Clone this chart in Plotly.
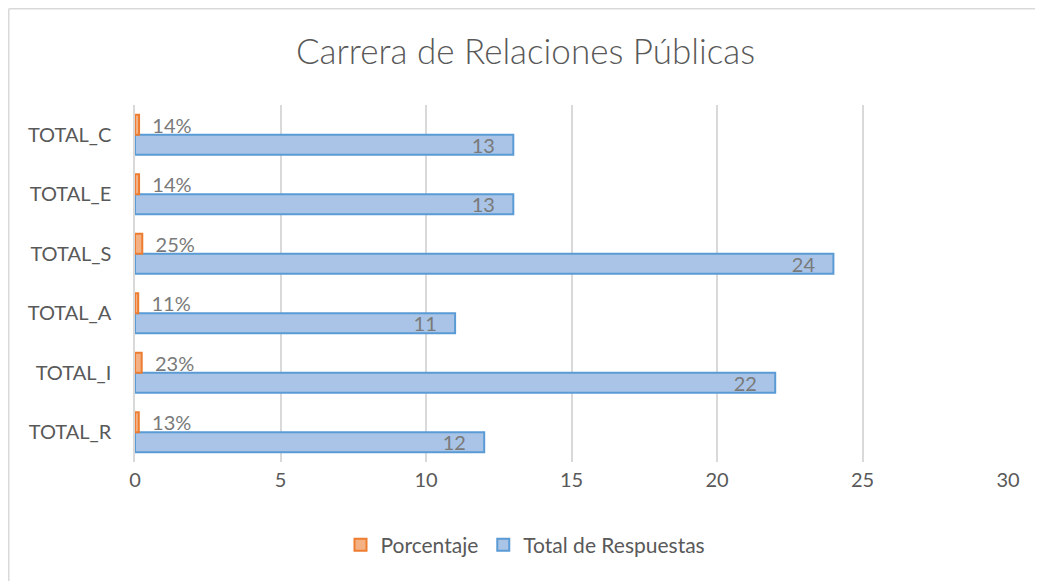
import plotly.graph_objects as go

categories = ["TOTAL_R", "TOTAL_I", "TOTAL_A", "TOTAL_S", "TOTAL_E", "TOTAL_C"]
porcentaje = [0.13, 0.23, 0.11, 0.25, 0.14, 0.14]
porcentaje_labels = ["13%", "23%", "11%", "25%", "14%", "14%"]
total_respuestas = [12, 22, 11, 24, 13, 13]
x_ticks = [0, 5, 10, 15, 20, 25, 30]

FONT = "Lato, Carlito, Calibri, sans-serif"
TXT = "#595959"

# page has an 8px body margin; figure is sized to fill the remaining window
W, H = 1035, 573
L, R, T, B = 127, 35, 97, 119
PH = H - T - B

fig = go.Figure()
fig.add_trace(go.Bar(
    y=categories, x=total_respuestas, orientation="h", name="Total de Respuestas",
    marker=dict(color="#a9c4e6", line=dict(color="#5b9bd5", width=2)),
    text=[str(v) for v in total_respuestas], texttemplate="%{text}   ",
    textposition="inside", insidetextanchor="end",
    textangle=0, constraintext="none",
    textfont=dict(color="#7a7a7a", size=20, family=FONT),
    legendrank=2, cliponaxis=False,
))
fig.add_trace(go.Bar(
    y=categories, x=porcentaje, orientation="h", name="Porcentaje",
    marker=dict(color="#f4b183", line=dict(color="#ed7d31", width=2)),
    text=porcentaje_labels, texttemplate="  %{text}",
    textposition="outside", textangle=0, constraintext="none",
    textfont=dict(color="#7a7a7a", size=20, family=FONT),
    legendrank=1, cliponaxis=False,
))

fig.update_layout(
    width=W, height=H,
    barmode="group", bargap=0.33, bargroupgap=0,
    margin=dict(l=L, r=R, t=T, b=B, autoexpand=False),
    paper_bgcolor="white", plot_bgcolor="white",
    font=dict(family=FONT, color=TXT, size=19),
    title=dict(text="Carrera de Relaciones Públicas", x=0.5, xanchor="center",
               y=1 - 44 / H, yanchor="middle",
               font=dict(size=35, color=TXT, family="Lato Light, " + FONT, weight=300)),
    xaxis=dict(range=[0, 30], tickvals=x_ticks, showgrid=True, gridcolor="#d9d9d9",
               gridwidth=1.5, zeroline=False, showline=False, ticks="",
               tickfont=dict(size=20, color=TXT), ticklabelstandoff=4),
    yaxis=dict(showgrid=False, zeroline=False, showline=True, linecolor="#d9d9d9",
               linewidth=1.5, ticks="", tickfont=dict(size=20, color=TXT),
               ticklabelstandoff=18, categoryorder="array", categoryarray=categories),
    legend=dict(orientation="h", xref="container", x=0.5, xanchor="center",
                y=(T + PH - 537) / PH, yanchor="middle",
                font=dict(size=21, color=TXT), traceorder="normal",
                itemwidth=30, tracegroupgap=0, entrywidth=0),
    showlegend=True,
    shapes=[
        dict(type="line", xref="paper", yref="paper",
             x0=(0.75 - L) / (W - L - R), x1=(W + 20 - L) / (W - L - R),
             y0=(T + PH - 0.75) / PH, y1=(T + PH - 0.75) / PH,
             line=dict(color="#d9d9d9", width=1.5)),
        dict(type="line", xref="paper", yref="paper",
             x0=(0.75 - L) / (W - L - R), x1=(0.75 - L) / (W - L - R),
             y0=(T + PH - 0.75) / PH, y1=(T + PH - H - 20) / PH,
             line=dict(color="#d9d9d9", width=1.5)),
    ],
)

fig.write_html("out.html")
